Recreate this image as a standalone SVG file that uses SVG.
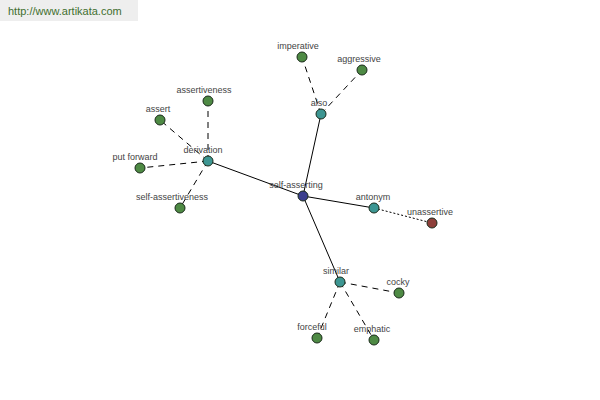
<svg xmlns="http://www.w3.org/2000/svg" width="600" height="400" viewBox="0 0 600 400">
<style>
.n{stroke:#1a2a1a;stroke-width:1}
.g{fill:#4e8a44}
.t{fill:#3d9692}
.b{fill:#3b3f8e}
.r{fill:#8e3f3a}
.l{font-family:"Liberation Sans",Arial,sans-serif;font-size:9px;fill:#444;text-anchor:middle}
.e{stroke:#000;stroke-width:1;fill:none}
.d{stroke-dasharray:6,5}
.o{stroke-dasharray:2,2}
</style>
<rect x="0" y="0" width="138" height="21" fill="#eeeeee"/>
<text x="8" y="15" font-family="Liberation Sans,Arial,sans-serif" font-size="11" fill="#3f6f2f">http://www.artikata.com</text>
<g id="connectors">
<line class="e" x1="303" y1="196" x2="321" y2="114"/>
<line class="e" x1="303" y1="196" x2="208" y2="161"/>
<line class="e" x1="303" y1="196" x2="374" y2="208"/>
<line class="e" x1="303" y1="196" x2="340" y2="282"/>
<line class="e d" x1="321" y1="114" x2="302" y2="57"/>
<line class="e d" x1="321" y1="114" x2="362" y2="70"/>
<line class="e d" x1="208" y1="161" x2="208" y2="101"/>
<line class="e d" x1="208" y1="161" x2="160" y2="120"/>
<line class="e d" x1="208" y1="161" x2="140" y2="168"/>
<line class="e d" x1="208" y1="161" x2="180" y2="208"/>
<line class="e o" x1="374" y1="208" x2="432" y2="223"/>
<line class="e d" x1="340" y1="282" x2="399" y2="293"/>
<line class="e d" x1="340" y1="282" x2="317" y2="338"/>
<line class="e d" x1="340" y1="282" x2="374" y2="340"/>
</g>
<g id="self-asserting"><circle class="n b" cx="303" cy="196" r="5"/><text class="l" x="296" y="188">self-asserting</text></g>
<g id="also"><circle class="n t" cx="321" cy="114" r="5"/><text class="l" x="319" y="106">also</text></g>
<g id="imperative"><circle class="n g" cx="302" cy="57" r="5"/><text class="l" x="298" y="49">imperative</text></g>
<g id="aggressive"><circle class="n g" cx="362" cy="70" r="5"/><text class="l" x="359" y="62">aggressive</text></g>
<g id="derivation"><circle class="n t" cx="208" cy="161" r="5"/><text class="l" x="203" y="153">derivation</text></g>
<g id="assertiveness"><circle class="n g" cx="208" cy="101" r="5"/><text class="l" x="204" y="93">assertiveness</text></g>
<g id="assert"><circle class="n g" cx="160" cy="120" r="5"/><text class="l" x="158" y="112">assert</text></g>
<g id="put-forward"><circle class="n g" cx="140" cy="168" r="5"/><text class="l" x="135" y="160">put forward</text></g>
<g id="self-assertiveness"><circle class="n g" cx="180" cy="208" r="5"/><text class="l" x="172" y="200">self-assertiveness</text></g>
<g id="antonym"><circle class="n t" cx="374" cy="208" r="5"/><text class="l" x="373" y="200">antonym</text></g>
<g id="unassertive"><circle class="n r" cx="432" cy="223" r="5"/><text class="l" x="430" y="215">unassertive</text></g>
<g id="similar"><circle class="n t" cx="340" cy="282" r="5"/><text class="l" x="336" y="274">similar</text></g>
<g id="cocky"><circle class="n g" cx="399" cy="293" r="5"/><text class="l" x="398" y="285">cocky</text></g>
<g id="forceful"><circle class="n g" cx="317" cy="338" r="5"/><text class="l" x="312" y="330">forceful</text></g>
<g id="emphatic"><circle class="n g" cx="374" cy="340" r="5"/><text class="l" x="372" y="332">emphatic</text></g>
</svg>
